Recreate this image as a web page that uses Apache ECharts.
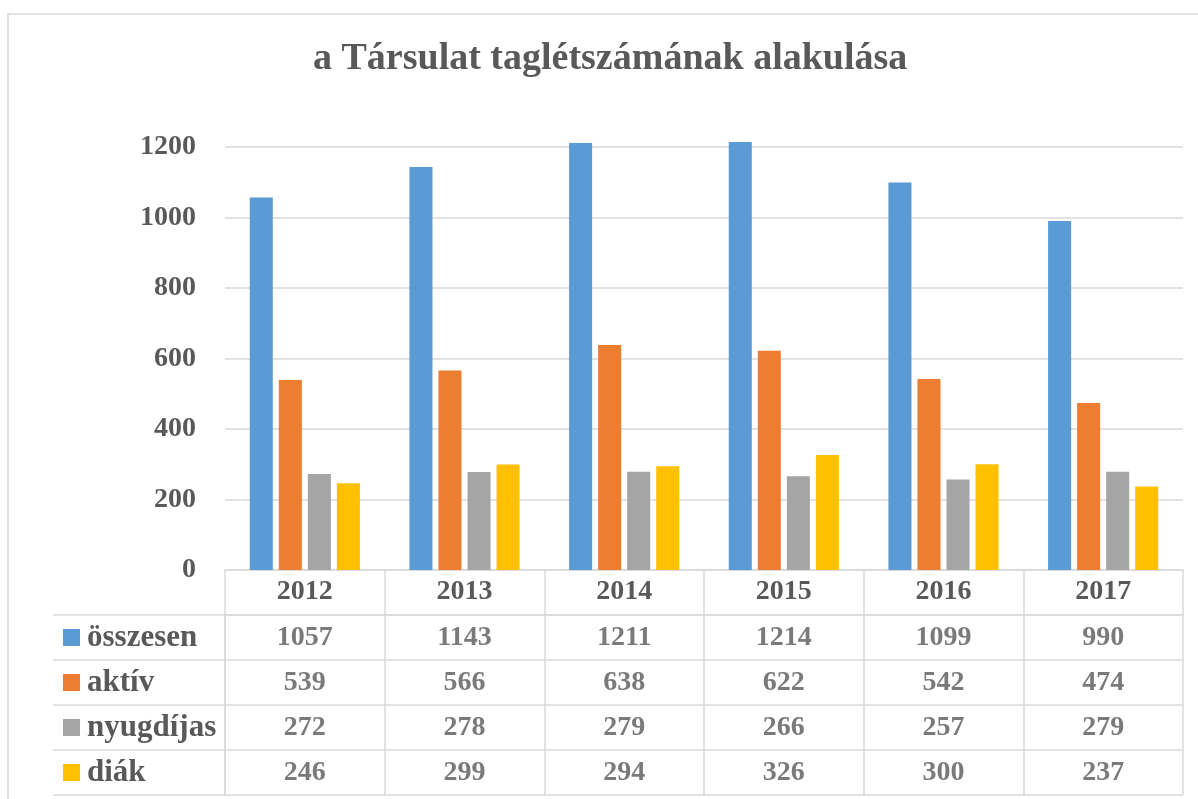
<!DOCTYPE html>
<html>
<head>
<meta charset="utf-8">
<script src="https://cdn.jsdelivr.net/npm/echarts@6/dist/echarts.min.js"></script>
<style>
  html, body { margin: 0; padding: 0; background: #fff; }
  #chart { width: 1198px; height: 799px; }
</style>
</head>
<body>
<div id="chart"></div>
<script>
// adatok
const years = ["2012", "2013", "2014", "2015", "2016", "2017"];
const seriesNames = ["összesen", "aktív", "nyugdíjas", "diák"];
const osszesen = [1057, 1143, 1211, 1214, 1099, 990];
const aktiv = [539, 566, 638, 622, 542, 474];
const nyugdijas = [272, 278, 279, 266, 257, 279];
const diak = [246, 299, 294, 326, 300, 237];
const yTicks = [0, 200, 400, 600, 800, 1000, 1200];

const colors = ["#5B9BD5", "#ED7D31", "#A5A5A5", "#FFC000"];
const values = [osszesen, aktiv, nyugdijas, diak];
const font = "'Liberation Serif', 'DejaVu Serif', serif";
const textColor = "#595959";
const lineColor = "#d9d9d9";

let chart = echarts.init(document.getElementById("chart"));

// oszlopok
let barSeries = [];
for (let i = 0; i < seriesNames.length; i++) {
    barSeries.push({
        name: seriesNames[i],
        type: "bar",
        xAxisIndex: 0,
        yAxisIndex: 0,
        data: values[i],
        clip: false,
        barGap: "26%",
        barCategoryGap: "31%",
        itemStyle: { color: colors[i] }
    });
}

// adattábla cellái
let cells = [];
for (let s = 0; s < seriesNames.length; s++) {
    for (let j = 0; j < years.length; j++) {
        cells.push([j, s, values[s][j]]);
    }
}

// jelmagyarázat négyzetek
let rich = {
    n: { fontFamily: font, fontWeight: "bold", fontSize: 31, color: textColor, padding: [0, 0, 0, 7] }
};
for (let i = 0; i < colors.length; i++) {
    rich["s" + i] = { width: 17, height: 17, backgroundColor: colors[i] };
}

chart.setOption({
    animation: false,
    title: {
        text: "a Társulat taglétszámának alakulása",
        left: 308,
        top: 35,
        textStyle: { fontFamily: font, fontWeight: "bold", fontSize: 38, color: textColor }
    },
    graphic: [{
        type: "rect",
        shape: { x: 8, y: 14, width: 1200, height: 800 },
        style: { fill: "none", stroke: lineColor, lineWidth: 1.5 },
        silent: true
    }],
    grid: [
        { left: 225, right: 15, top: 147, bottom: 229 },
        { left: 225, right: 15, top: 615, height: 180 }
    ],
    xAxis: [{
        type: "category",
        gridIndex: 0,
        data: years,
        axisLine: { lineStyle: { color: lineColor, width: 1.5 } },
        axisTick: { show: true, length: 45, lineStyle: { color: lineColor, width: 1.5 } },
        axisLabel: { margin: 8, fontFamily: font, fontWeight: "bold", fontSize: 28, color: textColor }
    }, {
        type: "category",
        gridIndex: 1,
        data: years,
        position: "top",
        axisLine: { show: true, lineStyle: { color: lineColor, width: 1.5 } },
        axisTick: { show: false },
        axisLabel: { show: false },
        splitLine: { show: true, lineStyle: { color: lineColor, width: 1.5 } }
    }],
    yAxis: [{
        type: "value",
        gridIndex: 0,
        min: 0,
        max: yTicks[yTicks.length - 1],
        interval: 200,
        axisLine: { show: false },
        axisTick: { show: false },
        axisLabel: {
            margin: 29,
            formatter: function (v) { return String(v); },
            fontFamily: font, fontWeight: "bold", fontSize: 28, color: textColor
        },
        splitLine: { lineStyle: { color: lineColor, width: 1.5 } }
    }, {
        type: "category",
        gridIndex: 1,
        data: seriesNames,
        inverse: true,
        axisLine: { show: true, lineStyle: { color: lineColor, width: 1.5 } },
        axisTick: { show: true, length: 172, lineStyle: { color: lineColor, width: 1.5 } },
        axisLabel: {
            align: "left",
            margin: 162,
            formatter: function (v, i) { return "{s" + i + "|}{n|" + v + "}"; },
            rich: rich
        },
        splitLine: { show: true, lineStyle: { color: lineColor, width: 1.5 } }
    }, {
        type: "category",
        gridIndex: 1,
        data: seriesNames,
        inverse: true,
        offset: 172,
        axisLine: { show: true, lineStyle: { color: lineColor, width: 1.5 } },
        axisTick: { show: false },
        axisLabel: { show: false }
    }],
    series: barSeries.concat([{
        type: "scatter",
        xAxisIndex: 1,
        yAxisIndex: 1,
        data: cells,
        symbolSize: 1,
        itemStyle: { color: "transparent" },
        label: {
            show: true,
            position: "inside",
            formatter: function (p) { return p.value[2]; },
            fontFamily: font,
            fontWeight: "bold",
            fontSize: 28,
            color: textColor
        }
    }])
});
</script>
</body>
</html>
